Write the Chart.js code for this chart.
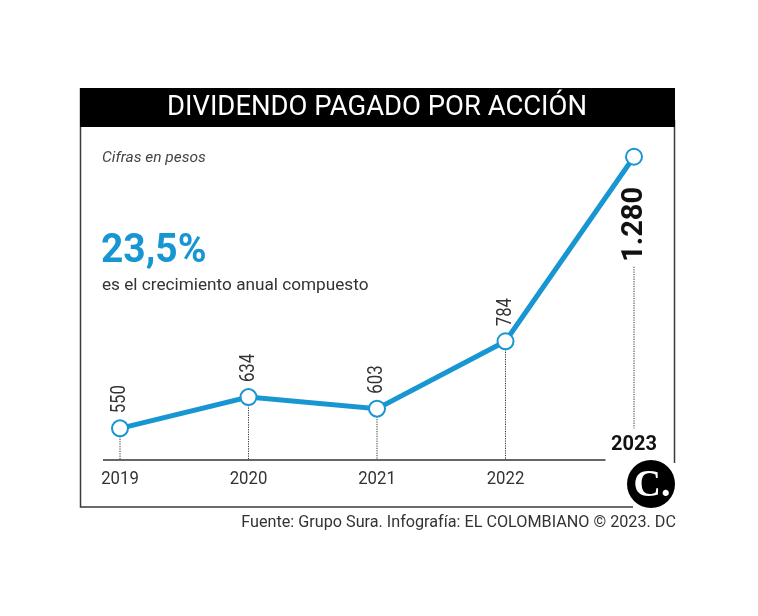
<!DOCTYPE html>
<html>
<head>
<meta charset="utf-8">
<title>Dividendo pagado por acción</title>
<script src="https://cdn.jsdelivr.net/npm/chart.js@4/dist/chart.umd.min.js"></script>
<style>
    html, body { margin: 0; padding: 0; background: #fff; }
    #wrap { width: 758px; height: 616px; }
</style>
</head>
<body>
<div id="wrap"><canvas id="dividendChart" width="758" height="616"></canvas></div>
<script>
// datos
const years = ["2019", "2020", "2021", "2022", "2023"];
const dividend = [550, 634, 603, 784, 1280];
const valueLabels = ["550", "634", "603", "784", "1.280"];

const title = "DIVIDENDO PAGADO POR ACCIÓN";
const subtitle = "Cifras en pesos";
const growth = "23,5%";
const growthText = "es el crecimiento anual compuesto";
const source = "Fuente: Grupo Sura. Infografía: EL COLOMBIANO © 2023. DC";

const BLUE = "#1896d1";
const INK = "#333333";

// texto algo condensado, como en el original
function narrowText(ctx, text, x, y, squeeze) {
    const w = ctx.measureText(text).width;
    ctx.fillText(text, x, y, w * squeeze);
}

const frame = {
    id: "frame",
    beforeDraw(chart) {
        const ctx = chart.ctx;
        ctx.save();
        ctx.fillStyle = "#fff";
        ctx.fillRect(0, 0, chart.width, chart.height);

        // marco
        ctx.strokeStyle = "#3a3a3a";
        ctx.lineWidth = 1.5;
        ctx.beginPath();
        ctx.moveTo(80.5, 88);
        ctx.lineTo(80.5, 507);
        ctx.lineTo(633, 507);
        ctx.moveTo(674.5, 120);
        ctx.lineTo(674.5, 463);
        ctx.stroke();

        // cabecera
        ctx.fillStyle = "#000";
        ctx.fillRect(80, 88, 595, 39);
        ctx.fillStyle = "#fff";
        ctx.font = "28px Roboto";
        ctx.textAlign = "center";
        ctx.textBaseline = "middle";
        narrowText(ctx, title, 377, 108, 0.98);

        ctx.textAlign = "left";
        ctx.textBaseline = "alphabetic";
        ctx.fillStyle = "#444";
        ctx.font = "italic 15.5px Roboto";
        narrowText(ctx, subtitle, 102, 162, 1.0);

        ctx.fillStyle = BLUE;
        ctx.font = "bold 41px Roboto";
        narrowText(ctx, growth, 101, 262, 0.95);

        ctx.fillStyle = INK;
        ctx.font = "17.2px Roboto";
        narrowText(ctx, growthText, 102, 290, 1.0);

        ctx.font = "16.2px Roboto";
        ctx.textAlign = "right";
        narrowText(ctx, source, 676, 527, 1.0);

        // logo
        ctx.fillStyle = "#000";
        ctx.beginPath();
        ctx.arc(651, 484, 24, 0, Math.PI * 2);
        ctx.fill();
        ctx.fillStyle = "#fff";
        ctx.font = "bold 38px 'Liberation Serif'";
        ctx.textAlign = "center";
        ctx.textBaseline = "middle";
        ctx.fillText("C.", 652, 486);
        ctx.restore();
    },
    beforeDatasetsDraw(chart) {
        const ctx = chart.ctx;
        const x = chart.scales.x;
        const area = chart.chartArea;
        const pts = chart.getDatasetMeta(0).data;
        const last = pts.length - 1;
        ctx.save();

        // eje
        ctx.strokeStyle = "#333";
        ctx.lineWidth = 1.5;
        ctx.beginPath();
        ctx.moveTo(x.getPixelForValue(0) - 17, area.bottom);
        ctx.lineTo(x.getPixelForValue(last - 1) + 100, area.bottom);
        ctx.stroke();

        // guías punteadas
        ctx.strokeStyle = "#333";
        ctx.lineWidth = 1;
        ctx.setLineDash([1.2, 1.2]);
        ctx.beginPath();
        pts.forEach((p, i) => {
            if (i === last) {
                ctx.moveTo(p.x, p.y + 110);
                ctx.lineTo(p.x, pts[0].y);
            } else {
                ctx.moveTo(p.x, p.y + 8);
                ctx.lineTo(p.x, area.bottom);
            }
        });
        ctx.stroke();
        ctx.setLineDash([]);

        // años
        ctx.textAlign = "center";
        ctx.textBaseline = "middle";
        years.forEach((y, i) => {
            if (i === last) {
                ctx.fillStyle = "#111";
                ctx.font = "bold 20px Roboto";
                narrowText(ctx, y, pts[i].x, area.bottom - 15, 1.05);
            } else {
                ctx.fillStyle = INK;
                ctx.font = "18px Roboto";
                narrowText(ctx, y, pts[i].x, area.bottom + 19, 0.93);
            }
        });
        ctx.restore();
    },
    afterDatasetsDraw(chart) {
        const ctx = chart.ctx;
        const pts = chart.getDatasetMeta(0).data;
        const last = pts.length - 1;
        ctx.save();
        ctx.textBaseline = "middle";
        pts.forEach((p, i) => {
            ctx.save();
            ctx.translate(p.x, p.y);
            ctx.rotate(-Math.PI / 2);
            if (i === last) {
                ctx.fillStyle = "#111";
                ctx.font = "bold 30px Roboto";
                ctx.textAlign = "right";
                narrowText(ctx, valueLabels[i], -30, 0, 0.97);
            } else {
                ctx.fillStyle = INK;
                ctx.font = "20.5px Roboto";
                ctx.textAlign = "left";
                narrowText(ctx, valueLabels[i], 15, 0, 0.82);
            }
            ctx.restore();
        });
        ctx.restore();
    }
};

const ctx = document.getElementById("dividendChart").getContext("2d");

new Chart(ctx, {
    type: "line",
    data: {
        labels: years,
        datasets: [{
            data: dividend,
            borderColor: BLUE,
            borderWidth: 5,
            pointRadius: 8,
            pointBorderWidth: 2,
            pointBackgroundColor: "#fff",
            pointBorderColor: BLUE,
            tension: 0,
            clip: false
        }]
    },
    options: {
        responsive: false,
        animation: false,
        events: [],
        layout: {
            padding: { left: 120, right: 124, top: 140, bottom: 156 }
        },
        plugins: {
            legend: { display: false },
            tooltip: { enabled: false }
        },
        scales: {
            x: { display: false, offset: false },
            y: { display: false, min: 465, max: 1325 }
        }
    },
    plugins: [frame]
});
</script>
</body>
</html>
